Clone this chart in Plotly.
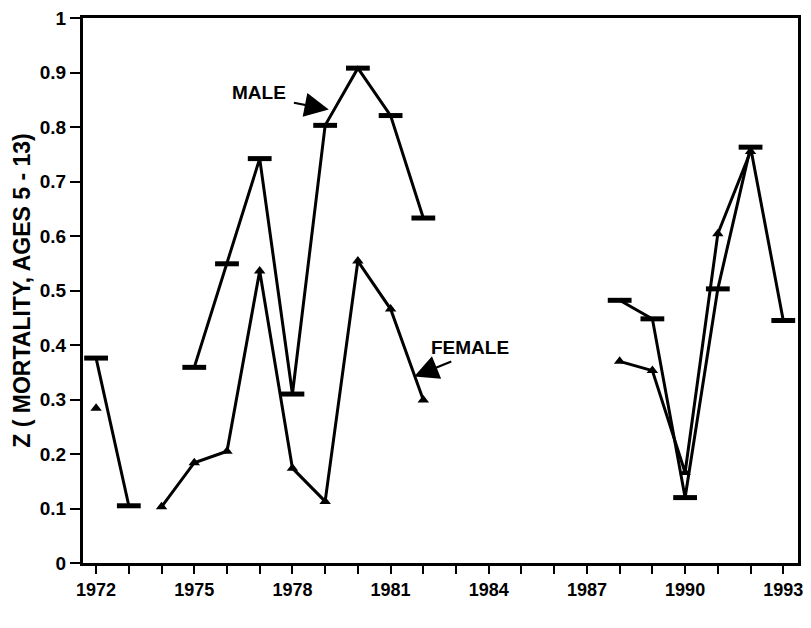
import plotly.graph_objects as go

years = list(range(1972, 1994))
male = [0.376, 0.105, None, 0.359, 0.549, 0.742, 0.31, 0.803, 0.908, 0.821, 0.633,
        None, None, None, None, None, 0.482, 0.448, 0.12, 0.503, 0.763, 0.445]
female = [0.284, None, 0.103, 0.184, 0.205, 0.536, 0.174, 0.113, 0.554, 0.466, 0.299,
          None, None, None, None, None, 0.37, 0.353, 0.166, 0.604, 0.755, None]

font_main = "Liberation Sans, Arial, Helvetica, sans-serif"

fig = go.Figure()
fig.add_trace(go.Scatter(
    x=years, y=male, mode="lines+markers", name="MALE",
    line=dict(color="black", width=3),
    marker=dict(symbol="line-ew", size=17, color="black",
                line=dict(color="black", width=5)),
    connectgaps=False, showlegend=False,
))
fig.add_trace(go.Scatter(
    x=years, y=female, mode="lines+markers", name="FEMALE",
    line=dict(color="black", width=3),
    marker=dict(symbol="triangle-up", size=10, color="black"),
    connectgaps=False, showlegend=False,
))

# labels
fig.add_annotation(x=1976.1, y=0.863, xref="x", yref="y", text="MALE",
                   showarrow=False, xanchor="left", yanchor="middle",
                   font=dict(family=font_main, size=19, color="black", weight="bold"))
fig.add_annotation(x=1979.11, y=0.832, ax=1978.0, ay=0.845,
                   xref="x", yref="y", axref="x", ayref="y", text="",
                   showarrow=True, arrowhead=2, arrowsize=2.2, arrowwidth=2.2,
                   arrowcolor="black")
fig.add_annotation(x=1982.17, y=0.395, xref="x", yref="y", text="FEMALE",
                   showarrow=False, xanchor="left", yanchor="middle",
                   font=dict(family=font_main, size=19, color="black", weight="bold"))
fig.add_annotation(x=1981.72, y=0.342, ax=1982.9, ay=0.371,
                   xref="x", yref="y", axref="x", ayref="y", text="",
                   showarrow=True, arrowhead=2, arrowsize=2.2, arrowwidth=2.2,
                   arrowcolor="black")

fig.update_layout(
    width=811, height=628,
    margin=dict(l=83, r=8, t=18, b=65),
    paper_bgcolor="white", plot_bgcolor="white",
    font=dict(family=font_main, size=19, color="black", weight="bold"),
)
fig.update_xaxes(
    range=[1971.6, 1993.45], tick0=1972, dtick=3, tickmode="linear",
    ticks="outside", ticklen=8, tickwidth=2, tickcolor="black",
    minor=dict(dtick=1, tick0=1972, ticks="outside", ticklen=8, tickwidth=2, tickcolor="black"),
    showline=True, linewidth=3, linecolor="black", mirror=True,
    showgrid=False, zeroline=False,
    tickfont=dict(family=font_main, size=18, weight="bold"),
)
fig.update_yaxes(
    range=[0, 1], tick0=0, dtick=0.1, tickmode="linear",
    ticks="outside", ticklen=10, tickwidth=2, tickcolor="black",
    showline=True, linewidth=3, linecolor="black", mirror=True,
    showgrid=False, zeroline=False,
    title=dict(text="Z ( MORTALITY, AGES 5 - 13)", standoff=3,
               font=dict(family=font_main, size=23, weight="bold")),
    tickfont=dict(family=font_main, size=19, weight="bold"),
)

fig.write_html("out.html", config={"displayModeBar": False},
               post_script="document.body.style.margin='0';document.body.style.overflow='hidden';")
